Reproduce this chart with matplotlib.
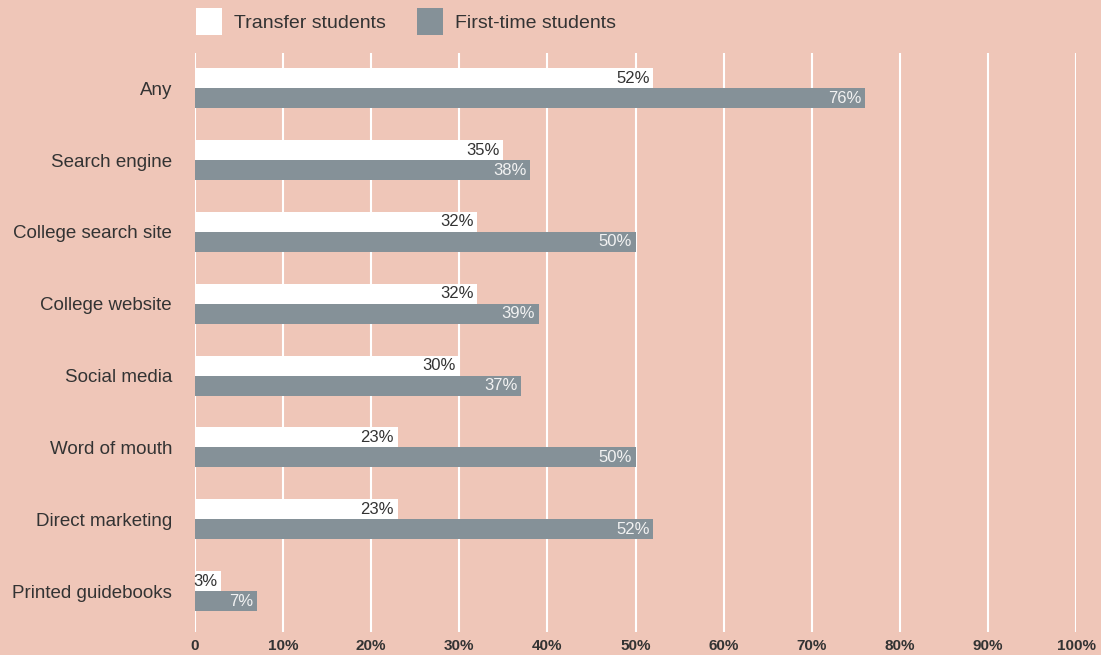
import numpy as np
import matplotlib
matplotlib.use("Agg")
import matplotlib.pyplot as plt
from matplotlib.patches import Patch

categories = ['Any', 'Search engine', 'College search site', 'College website',
              'Social media', 'Word of mouth', 'Direct marketing', 'Printed guidebooks']
transfer = [52, 35, 32, 32, 30, 23, 23, 3]
first_time = [76, 38, 50, 39, 37, 50, 52, 7]
xticks = [0, 10, 20, 30, 40, 50, 60, 70, 80, 90, 100]
xtick_labels = ['0'] + [f'{v}%' for v in xticks[1:]]

bg = '#efc6b8'
gray = '#859198'
txt = '#333333'

plt.rcParams['font.family'] = ['Liberation Sans', 'DejaVu Sans']

fig = plt.figure(figsize=(11.01, 6.55), dpi=100, facecolor=bg)
W, H = 1101, 655
ax = fig.add_axes([195 / W, (H - 632) / H, (1076 - 195) / W, (632 - 53) / H])
ax.set_facecolor(bg)

y = np.arange(len(categories))
h = 0.278
ax.barh(y - h / 2, transfer, height=h, color='white', zorder=3)
ax.barh(y + h / 2, first_time, height=h, color=gray, zorder=3)

for i in range(len(categories)):
    ax.text(transfer[i] - 0.4, y[i] - h / 2, f'{transfer[i]}%', ha='right', va='center',
            fontsize=12, color=txt, zorder=4)
    ax.text(first_time[i] - 0.4, y[i] + h / 2, f'{first_time[i]}%', ha='right', va='center',
            fontsize=12, color='#f2f2f2', zorder=4)

ax.set_xlim(0, 100)
ax.set_ylim(7.57, -0.49)
ax.set_xticks(xticks)
ax.set_xticklabels(xtick_labels, fontsize=11, fontweight='bold', color=txt)
ax.set_yticks(y)
ax.set_yticklabels(categories, fontsize=13.5, color=txt)
ax.tick_params(axis='both', length=0)
ax.tick_params(axis='y', pad=16.5)
ax.tick_params(axis='x', pad=5)
ax.grid(axis='x', color='white', linewidth=1.5, zorder=1)
for s in ax.spines.values():
    s.set_visible(False)

handles = [Patch(facecolor='white', edgecolor='none', label='Transfer students'),
           Patch(facecolor=gray, edgecolor='none', label='First-time students')]
leg = fig.legend(handles=handles, loc='upper left', bbox_to_anchor=(196 / W, 1 - 8 / H),
                 ncol=2, frameon=False, fontsize=14, borderpad=0, borderaxespad=0,
                 handlelength=1.34, handleheight=1.75,
                 handletextpad=0.62, columnspacing=1.6)
for t in leg.get_texts():
    t.set_color(txt)

fig.savefig('out.png', dpi=100, facecolor=bg)
